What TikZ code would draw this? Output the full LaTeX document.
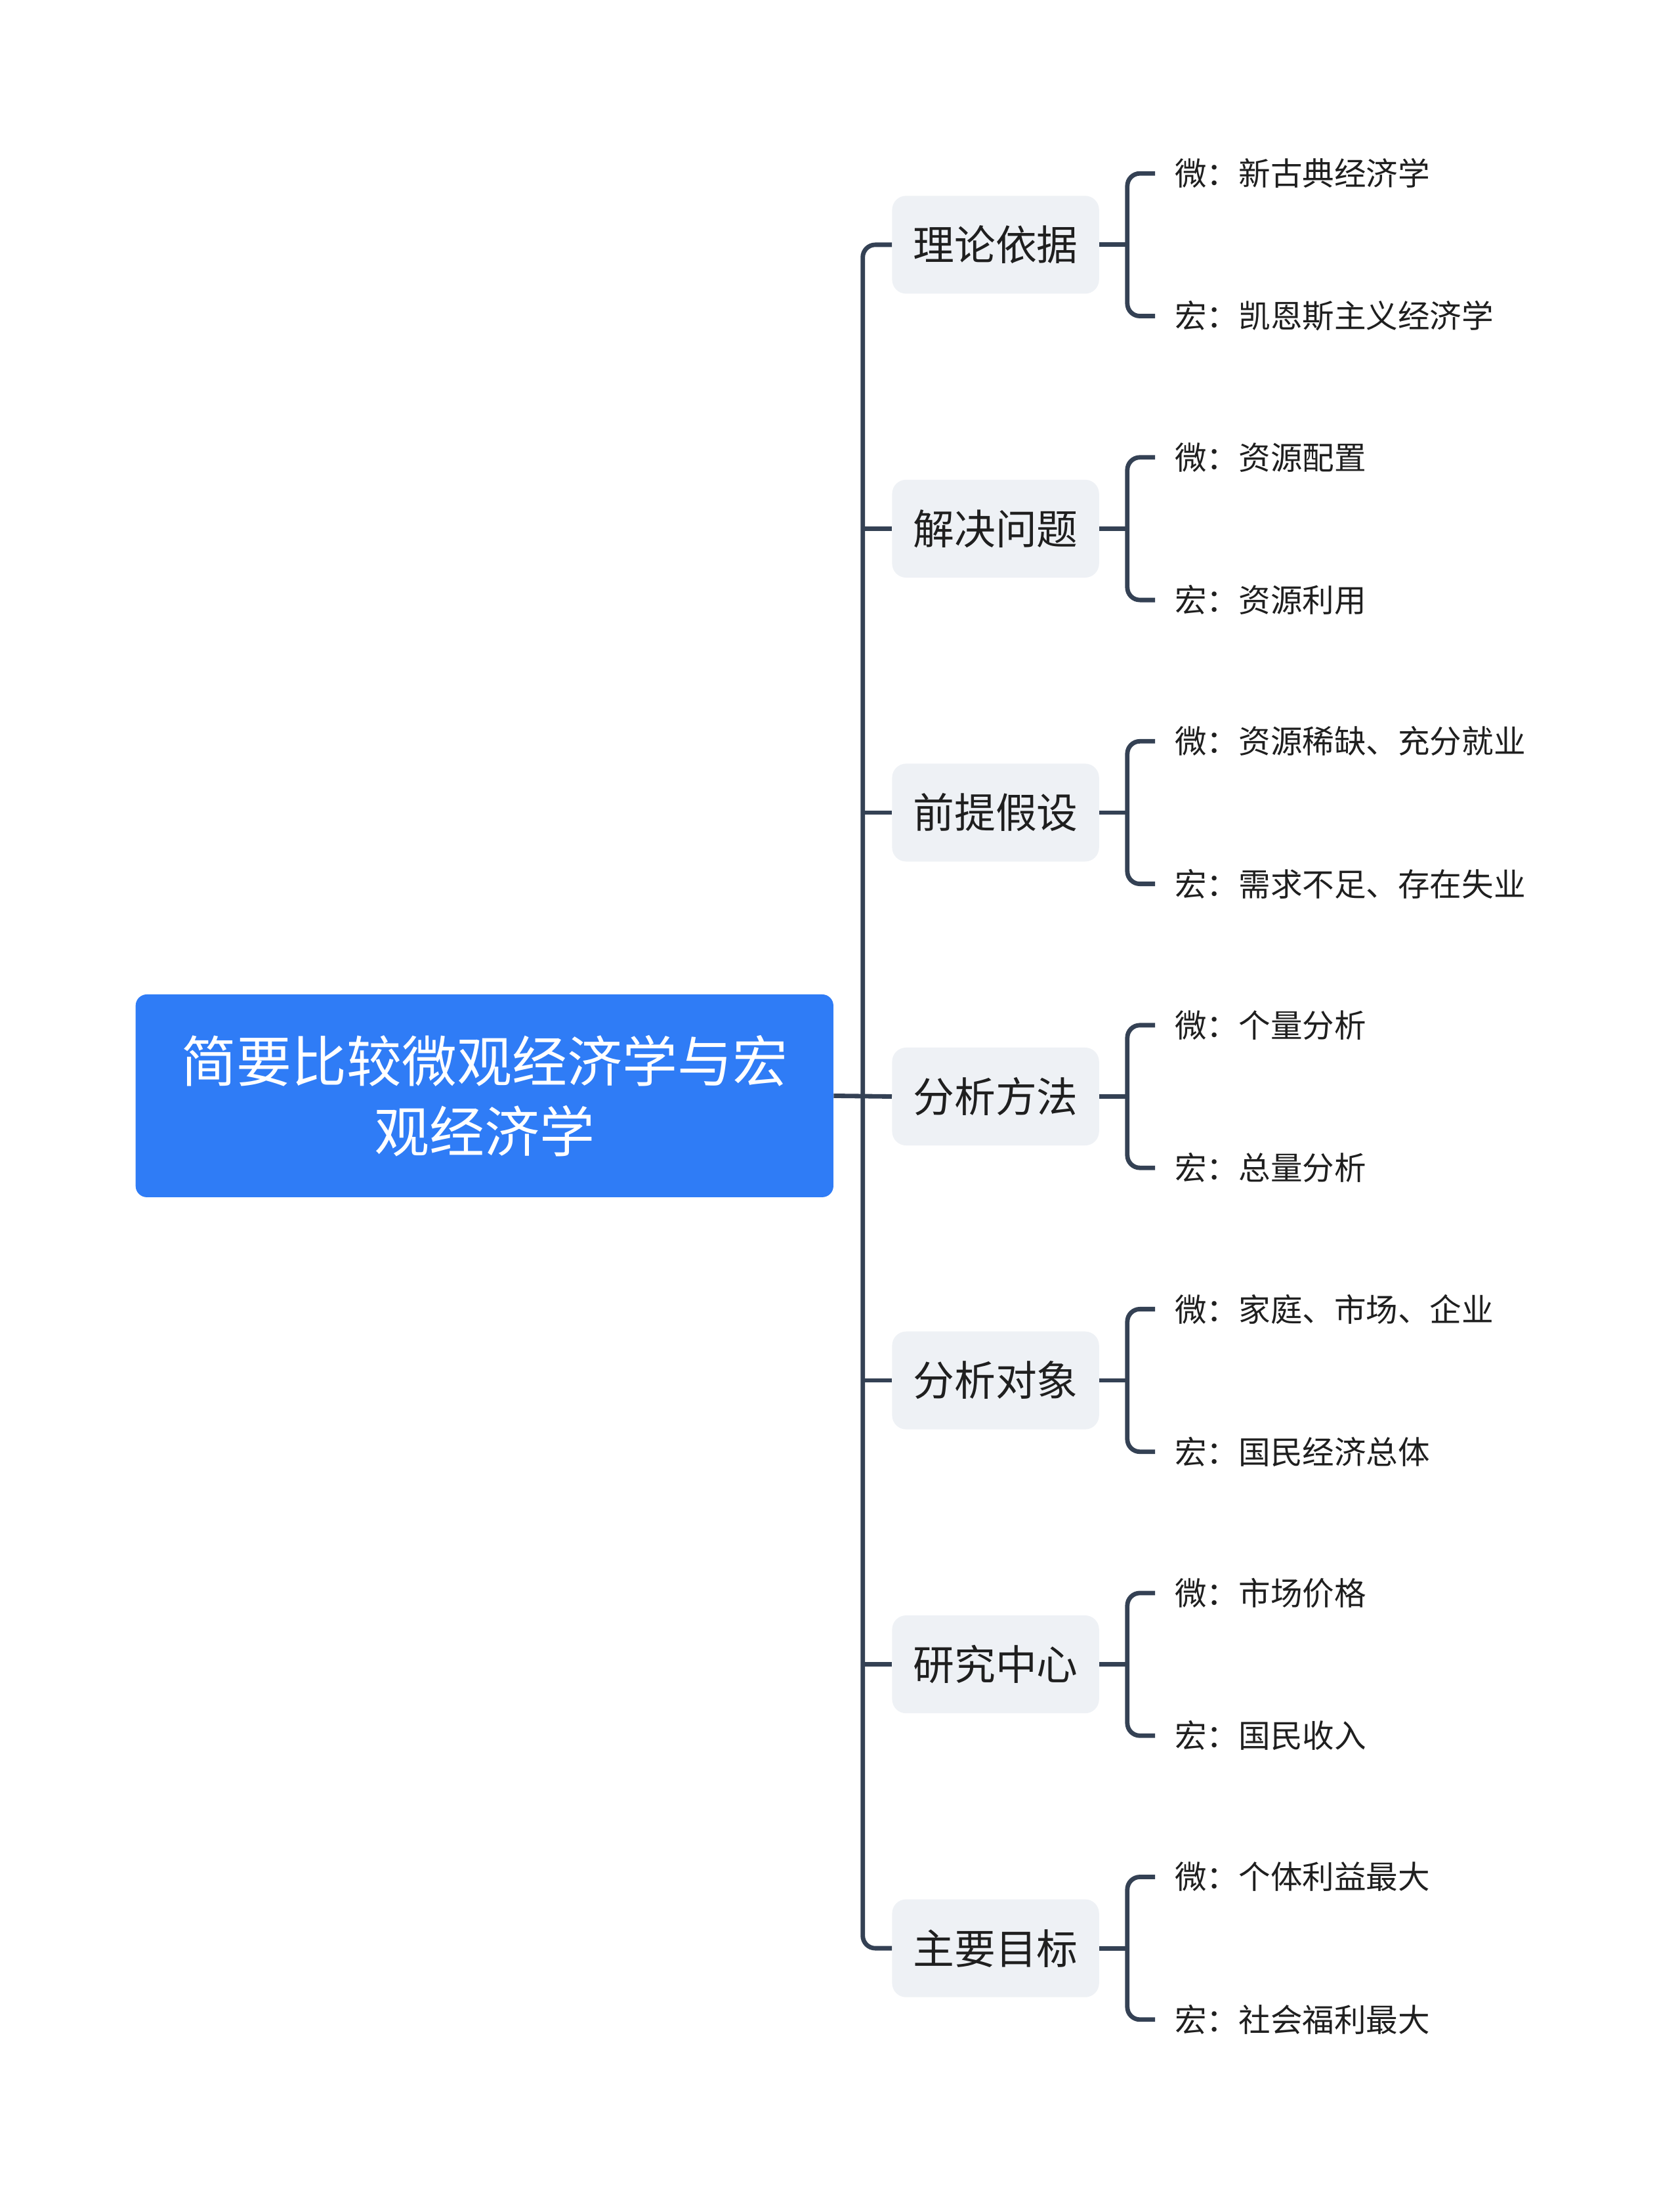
\documentclass[tikz,border=0pt]{standalone}
\usepackage{fontspec}
\newfontfamily\cjk{Noto Sans CJK SC}
\usetikzlibrary{positioning}
\definecolor{rootblue}{HTML}{2F7CF6}
\definecolor{boxgray}{HTML}{EEF1F5}
\definecolor{linecol}{HTML}{344154}

\begin{document}
\begin{tikzpicture}[x=1pt,y=-1pt,
    root/.style={fill=rootblue, rounded corners=8pt, text=white, align=center,
      minimum width=499pt, minimum height=145pt, inner sep=0pt,
      font=\cjk\fontsize{39.4}{50}\selectfont},
    topic/.style={fill=boxgray, rounded corners=10pt, text=black!88,
      minimum width=148pt, minimum height=70pt, inner sep=0pt,
      font=\cjk\fontsize{29.5}{35}\selectfont},
    leaf/.style={anchor=west, inner sep=0pt, text=black!88,
      font=\cjk\fontsize{22.8}{27}\selectfont},
    link/.style={draw=linecol, line width=3.2pt, rounded corners=9pt}]
\useasboundingbox (0,0) rectangle (1201,1568);

\node[root] (root) at (346.5,783.5) {简要比较微观经济学与宏\\观经济学};

\node[topic] (basis) at (712,175) {理论依据};
\node[topic] (problem) at (712,378) {解决问题};
\node[topic] (assume) at (712,581) {前提假设};
\node[topic] (method) at (712,784) {分析方法};
\node[topic] (object) at (712,987) {分析对象};
\node[topic] (center) at (712,1190) {研究中心};
\node[topic] (goal) at (712,1393) {主要目标};

\node[leaf] (basisw) at (840,124) {微：新古典经济学};
\node[leaf] (basish) at (840,226) {宏：凯恩斯主义经济学};
\node[leaf] (problemw) at (840,327) {微：资源配置};
\node[leaf] (problemh) at (840,429) {宏：资源利用};
\node[leaf] (assumew) at (840,530) {微：资源稀缺、充分就业};
\node[leaf] (assumeh) at (840,632) {宏：需求不足、存在失业};
\node[leaf] (methodw) at (840,733) {微：个量分析};
\node[leaf] (methodh) at (840,835) {宏：总量分析};
\node[leaf] (objectw) at (840,936) {微：家庭、市场、企业};
\node[leaf] (objecth) at (840,1038) {宏：国民经济总体};
\node[leaf] (centerw) at (840,1139) {微：市场价格};
\node[leaf] (centerh) at (840,1241) {宏：国民收入};
\node[leaf] (goalw) at (840,1342) {微：个体利益最大};
\node[leaf] (goalh) at (840,1444) {宏：社会福利最大};

% trunk from the root to the topics
\coordinate (trunk) at (617,784);
\draw[link] (basis.west) -| (trunk) |- (goal.west);
\draw[link] (root.east) -- (method.west);
\draw[link] (trunk |- problem.west) -- (problem.west);
\draw[link] (trunk |- assume.west) -- (assume.west);
\draw[link] (trunk |- object.west) -- (object.west);
\draw[link] (trunk |- center.west) -- (center.west);

% brackets to the leaves
\draw[link] ([xshift=-14pt]basisw.west) -| ([xshift=20pt]basis.east) |- ([xshift=-14pt]basish.west);
\draw[link] (basis.east) -- ++(20,0);
\draw[link] ([xshift=-14pt]problemw.west) -| ([xshift=20pt]problem.east) |- ([xshift=-14pt]problemh.west);
\draw[link] (problem.east) -- ++(20,0);
\draw[link] ([xshift=-14pt]assumew.west) -| ([xshift=20pt]assume.east) |- ([xshift=-14pt]assumeh.west);
\draw[link] (assume.east) -- ++(20,0);
\draw[link] ([xshift=-14pt]methodw.west) -| ([xshift=20pt]method.east) |- ([xshift=-14pt]methodh.west);
\draw[link] (method.east) -- ++(20,0);
\draw[link] ([xshift=-14pt]objectw.west) -| ([xshift=20pt]object.east) |- ([xshift=-14pt]objecth.west);
\draw[link] (object.east) -- ++(20,0);
\draw[link] ([xshift=-14pt]centerw.west) -| ([xshift=20pt]center.east) |- ([xshift=-14pt]centerh.west);
\draw[link] (center.east) -- ++(20,0);
\draw[link] ([xshift=-14pt]goalw.west) -| ([xshift=20pt]goal.east) |- ([xshift=-14pt]goalh.west);
\draw[link] (goal.east) -- ++(20,0);
\end{tikzpicture}
\end{document}
